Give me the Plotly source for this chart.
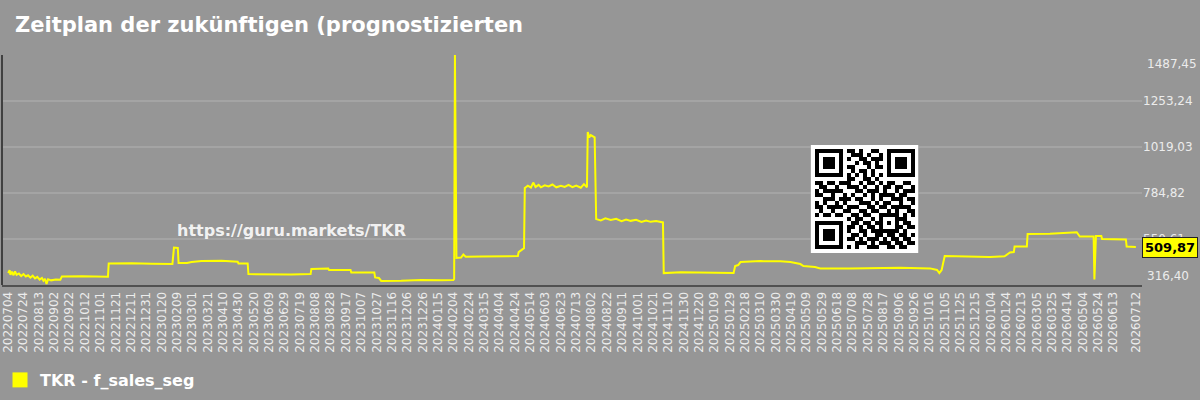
import plotly.graph_objects as go

# ---------------- data ----------------
dates = [
    "2022-07-04", "2022-07-06", "2022-07-07", "2022-07-09", "2022-07-11", "2022-07-13", "2022-07-15",
    "2022-07-18", "2022-07-21", "2022-07-24", "2022-07-27", "2022-07-30", "2022-08-02", "2022-08-05",
    "2022-08-08", "2022-08-11", "2022-08-14", "2022-08-17", "2022-08-19", "2022-08-21", "2022-08-23",
    "2022-08-25", "2022-08-29", "2022-09-04", "2022-09-10", "2022-09-12", "2022-10-08", "2022-11-03",
    "2022-11-11", "2022-11-12", "2022-12-12", "2023-01-07", "2023-02-03", "2023-02-05", "2023-02-10",
    "2023-02-11", "2023-02-22", "2023-02-28", "2023-03-13", "2023-04-08", "2023-04-29", "2023-04-30",
    "2023-05-12", "2023-05-13", "2023-06-12", "2023-07-08", "2023-08-02", "2023-08-03", "2023-08-25",
    "2023-08-26", "2023-09-23", "2023-09-24", "2023-10-24", "2023-10-25", "2023-10-30", "2023-11-02",
    "2023-11-28", "2023-12-24", "2024-01-19", "2024-02-04", "2024-02-05", "2024-02-06", "2024-02-08",
    "2024-02-14", "2024-02-17", "2024-02-20", "2024-03-11", "2024-04-06", "2024-04-28", "2024-04-29",
    "2024-05-06", "2024-05-07", "2024-05-11", "2024-05-15", "2024-05-18", "2024-05-21", "2024-05-25",
    "2024-05-28", "2024-06-02", "2024-06-07", "2024-06-12", "2024-06-17", "2024-06-23", "2024-06-28",
    "2024-07-03", "2024-07-08", "2024-07-13", "2024-07-19", "2024-07-23", "2024-07-27", "2024-07-28",
    "2024-07-30", "2024-08-01", "2024-08-06", "2024-08-08", "2024-08-14", "2024-08-20", "2024-08-27",
    "2024-09-03", "2024-09-10", "2024-09-16", "2024-09-22", "2024-09-29", "2024-10-06", "2024-10-12",
    "2024-10-18", "2024-10-25", "2024-11-03", "2024-11-04", "2024-11-26", "2024-12-22", "2025-02-03",
    "2025-02-05", "2025-02-09", "2025-02-12", "2025-03-10", "2025-04-05", "2025-04-18", "2025-05-01",
    "2025-05-05", "2025-05-20", "2025-05-27", "2025-07-05", "2025-08-13", "2025-09-08", "2025-10-17",
    "2025-10-26", "2025-10-29", "2025-11-01", "2025-11-05", "2025-12-08", "2026-01-03", "2026-01-22",
    "2026-01-29", "2026-02-03", "2026-02-04", "2026-02-20", "2026-02-21", "2026-03-22", "2026-04-17",
    "2026-04-26", "2026-04-30", "2026-05-18", "2026-05-19", "2026-05-21", "2026-05-28", "2026-05-29",
    "2026-06-29", "2026-06-30", "2026-07-12",
]
sales_seg = [
    378, 392, 368, 384, 366, 386, 368,
    375, 362, 372, 360, 366, 354, 364,
    350, 358, 344, 352, 338, 348, 322,
    346, 340, 344, 343, 360, 361, 357,
    359, 426, 427, 424, 423, 507, 505,
    428, 428, 433, 438, 440, 435, 426,
    426, 372, 370, 370, 372, 398, 400,
    393, 393, 380, 380, 355, 352, 337,
    338, 342, 340, 342, 347, 1487.45, 454,
    456, 472, 460, 461, 462, 464, 484,
    504, 810, 822, 812, 838, 815, 826,
    814, 824, 818, 828, 814, 822, 816,
    826, 815, 823, 812, 830, 814, 1095,
    1068, 1080, 1068, 652, 645, 656, 648,
    653, 641, 650, 643, 648, 637, 645,
    638, 642, 635, 377, 381, 380, 378,
    413, 418, 433, 438, 437, 433, 423,
    413, 408, 401, 400, 403, 404, 401,
    393, 377, 393, 464, 461, 459, 463,
    482, 484, 512, 512, 576, 577, 581,
    585, 563, 563, 345, 566, 566, 551,
    548, 512, 509.87,
]
series_name = "TKR - f_sales_seg"
last_value = 509.87

y_ticks = [316.40, 550.61, 784.82, 1019.03, 1253.24, 1487.45]

x_tick_labels = [
    "20220704", "20220724", "20220813", "20220902", "20220922", "20221012", "20221101", "20221121",
    "20221211", "20221231", "20230120", "20230209", "20230301", "20230321", "20230410", "20230430",
    "20230520", "20230609", "20230629", "20230719", "20230808", "20230828", "20230917", "20231007",
    "20231027", "20231116", "20231206", "20231226", "20240115", "20240204", "20240224", "20240315",
    "20240404", "20240424", "20240514", "20240603", "20240623", "20240713", "20240802", "20240822",
    "20240911", "20241001", "20241021", "20241110", "20241130", "20241220", "20250109", "20250129",
    "20250218", "20250310", "20250330", "20250419", "20250509", "20250529", "20250618", "20250708",
    "20250728", "20250817", "20250906", "20250926", "20251016", "20251105", "20251125", "20251215",
    "20260104", "20260124", "20260213", "20260305", "20260325", "20260414", "20260504", "20260524",
    "20260613", "20260712",
]
x_tick_vals = [f"{t[:4]}-{t[4:6]}-{t[6:]}" for t in x_tick_labels]

title_text = "Zeitplan der zukünftigen (prognostizierten"
watermark = "https://guru.markets/TKR"

# QR-code decoration (27x27 incl. white quiet border)
qr_rows = [
    "1111111011010011001111111",
    "1000001001110100101000001",
    "1011101010011011101011101",
    "1011101000101101001011101",
    "1011101011000101101011101",
    "1000001001011010001000001",
    "1111111010101010101111111",
    "0000000011001101000000000",
    "1101101110010110101100110",
    "0110010011101001011011001",
    "1011111000110111010010111",
    "1100100101001010111101100",
    "0011101110110010100111011",
    "1010010100011101011001001",
    "1101111011100110110111110",
    "0100100110011011001010011",
    "1011011001101100111110101",
    "0000000010110010100011100",
    "1111111001101101101010110",
    "1000001011010110100011011",
    "1011101010011011111110100",
    "1011101001101001101101101",
    "1011101011010111010110110",
    "1000001000111010111011011",
    "1111111010100111001101100",
]
qr_z = [[0] * 27] + [[0] + [int(c) for c in r] + [0] for r in qr_rows] + [[0] * 27]

# ---------------- figure ----------------
BG = "#969696"
GRID = "#a4a4a4"
TXT = "#ececec"
FONT = "DejaVu Sans"

W, H = 1200, 400
ML, MR, MT, MB = 0, 58, 55, 115
PW, PH = W - ML - MR, H - MT - MB

fig = go.Figure()
fig.add_trace(go.Scatter(
    x=dates, y=sales_seg, mode="lines",
    line=dict(color="#ffff00", width=2),
    showlegend=False, name=series_name,
))
fig.add_trace(go.Scatter(
    x=[None], y=[None], mode="markers", name=series_name,
    marker=dict(symbol="square", size=15, color="#ffff00"),
    showlegend=True,
))

# QR code heatmap on its own axes
fig.add_trace(go.Heatmap(
    z=qr_z, xaxis="x2", yaxis="y2", showscale=False,
    colorscale=[[0, "#ffffff"], [1, "#000000"]], zmin=0, zmax=1,
    hoverinfo="skip",
))

fig.update_layout(
    width=W, height=H,
    margin=dict(l=ML, r=MR, t=MT, b=MB),
    paper_bgcolor=BG, plot_bgcolor=BG,
    separators=", ",
    font=dict(family=FONT, color=TXT, size=12),
    title=dict(
        text=title_text, x=15 / W, xanchor="left", xref="container",
        y=1 - 25 / H, yanchor="middle", yref="container",
        font=dict(family=FONT, size=21, color="#ffffff", weight="bold"),
    ),
    xaxis=dict(
        type="date",
        range=["2022-06-26", "2026-07-20"],
        tickmode="array", tickvals=x_tick_vals, ticktext=x_tick_labels,
        tickangle=-90, tickfont=dict(size=12, color=TXT),
        ticklabeloverflow="allow",
        showgrid=False, zeroline=False,
        showline=True, linecolor="#505050", linewidth=2,
        ticks="",
    ),
    yaxis=dict(
        side="right",
        range=[y_ticks[0], y_ticks[-1]],
        tickmode="array", tickvals=y_ticks,
        ticktext=["", "550,61", "784,82", "1019,03", "1253,24", ""],
        tickfont=dict(size=12, color=TXT),
        showgrid=True, gridcolor=GRID, gridwidth=2,
        zeroline=False, showline=False, ticks="",
    ),
    xaxis2=dict(domain=[810 / PW, 918 / PW], range=[-0.5, 26.5], visible=False, anchor="y2"),
    yaxis2=dict(domain=[(H - MB - 253) / PH, (H - MB - 145) / PH], range=[26.5, -0.5],
                visible=False, anchor="x2"),
    legend=dict(
        orientation="h", x=-2 / PW, xanchor="left", y=-(380 - (H - MB)) / PH, yanchor="middle",
        font=dict(family=FONT, size=16, color="#ffffff", weight="bold"),
        bgcolor="rgba(0,0,0,0)", itemwidth=30,
    ),
    shapes=[dict(type="line", xref="paper", yref="paper", x0=0, x1=0, y0=0, y1=1,
                 line=dict(color="#404040", width=2))],
)

annotations = [
    dict(text=f"{y_ticks[-1]:.2f}".replace(".", ","), xref="paper", x=1, xanchor="left", xshift=3,
         yref="y", y=y_ticks[-1], yanchor="top", showarrow=False,
         font=dict(size=12, color=TXT)),
    dict(text=f"{y_ticks[0]:.2f}".replace(".", ","), xref="paper", x=1, xanchor="left", xshift=3,
         yref="y", y=y_ticks[0], yanchor="bottom", showarrow=False,
         font=dict(size=12, color=TXT)),
    dict(text=f"<b>{last_value:.2f}</b>".replace(".", ","), xref="paper", x=1, xanchor="left", xshift=0,
         yref="y", y=last_value, yanchor="middle", showarrow=False,
         bgcolor="#ffff00", bordercolor="#222222", borderwidth=1, borderpad=2,
         font=dict(size=13, color="#000000")),
    dict(text=f"<b>{watermark}</b>", xref="paper", x=290 / PW, xanchor="center",
         yref="paper", y=(H - MB - 230) / PH, yanchor="middle", showarrow=False,
         font=dict(size=16, color="rgba(255,255,255,0.9)")),
]
fig.update_layout(annotations=annotations)

fig.write_html("out.html")
